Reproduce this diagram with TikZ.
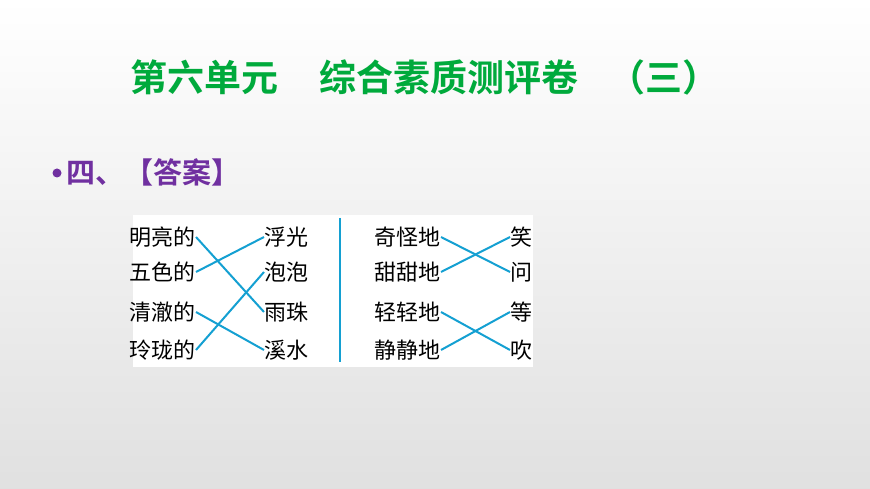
\documentclass[tikz,border=0pt]{standalone}
\usepackage{fontspec}
\newfontfamily\cjk{Noto Sans CJK SC}
\newfontfamily\cjkb{Noto Sans CJK SC Bold}
\definecolor{tgreen}{RGB}{0,170,60}
\definecolor{tpurple}{RGB}{112,48,160}
\definecolor{lblue}{RGB}{20,160,210}
\tikzset{w/.style={inner sep=0pt,font=\cjk\fontsize{22}{22}\selectfont},
 ln/.style={lblue,line width=2pt}}
\begin{document}
\begin{tikzpicture}[x=1pt,y=-1pt]
\shade[top color=white,bottom color=black!12] (0,0) rectangle (870,489);
\useasboundingbox (0,0) rectangle (870,489);
\node[inner sep=0pt,text=tgreen,font=\cjkb\fontsize{37}{37}\selectfont] (title) at (425,77) {第六单元\hspace{1.1em}综合素质测评卷\hspace{0.8em}（三）};
\fill[tpurple] (57,173) circle (4.5);
\node[inner sep=0pt,anchor=west,text=tpurple,font=\cjkb\fontsize{29}{29}\selectfont] (h) at (66,172) {四、【答案】};
\fill[white] (133,215) rectangle (533,367);
\foreach \n/\t/\y in {a1/明亮的/237,a2/五色的/272,a3/清澈的/312,a4/玲珑的/350}
  \node[w,anchor=east] (\n) at (196,\y) {\t};
\foreach \n/\t/\y in {b1/浮光/237,b2/泡泡/272,b3/雨珠/312,b4/溪水/350}
  \node[w,anchor=west] (\n) at (264,\y) {\t};
\foreach \n/\t/\y in {c1/奇怪地/237,c2/甜甜地/272,c3/轻轻地/312,c4/静静地/350}
  \node[w,anchor=east] (\n) at (441,\y) {\t};
\foreach \n/\t/\y in {d1/笑/237,d2/问/272,d3/等/312,d4/吹/350}
  \node[w,anchor=west] (\n) at (510,\y) {\t};
\coordinate (v1) at (340,218); \coordinate (v2) at (340,362);
\draw[lblue,line width=1.5pt] (v1) -- (v2);
\draw[ln] (a1.east) -- (b3.west);
\draw[ln] (a2.east) -- (b1.west);
\draw[ln] (a3.east) -- (b4.west);
\draw[ln] (a4.east) -- (b2.west);
\draw[ln] (c1.east) -- (d2.west);
\draw[ln] (c2.east) -- (d1.west);
\draw[ln] (c3.east) -- (d4.west);
\draw[ln] (c4.east) -- (d3.west);
\end{tikzpicture}
\end{document}
